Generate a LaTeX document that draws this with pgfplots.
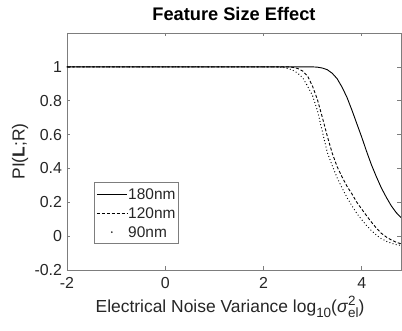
\documentclass[border=0pt]{standalone}
\usepackage{pgfplots}
\pgfplotsset{compat=1.18}
\usepackage{fontspec}
\setmainfont{Liberation Sans}
\definecolor{mgray}{RGB}{38,38,38}
\newcommand{\sub}[1]{{\fontsize{13.5}{13}\selectfont #1}}
\begin{document}
\begin{tikzpicture}
\begin{axis}[
  scale only axis, width=334bp, height=237bp,
  xmin=-2, xmax=4.8, ymin=-0.2, ymax=1.2,
  xtick={-2,0,2,4}, xticklabels={-2,0,2,4},
  ytick={-0.2,0,0.2,0.4,0.6,0.8,1}, yticklabels={-0.2,0,0.2,0.4,0.6,0.8,1},
  tick align=inside, major tick length=3.5bp,
  axis line style={mgray!60, line width=0.6pt},
  tick style={mgray!60, line width=0.6pt},
  ticklabel style={font=\fontsize{16}{18}\selectfont, text=mgray},
  xticklabel style={anchor=base, yshift=-18.3bp},
  yticklabel style={xshift=-1.5bp},
  title={\textbf{Feature Size Effect}},
  title style={font=\fontsize{18.3}{20}\selectfont, at={(axis description cs:0.5,1)}, anchor=base, yshift=6.5bp},
  xlabel={Electrical Noise Variance log\raisebox{-5bp}{\sub{10}}(\textit{σ}\rlap{\raisebox{7bp}{\sub{2}}}\raisebox{-5bp}{\sub{el}})},
  ylabel={PI(\textbf{L};R)},
  label style={font=\fontsize{17.5}{19}\selectfont, text=mgray},
  xlabel style={at={(axis description cs:0.5,0)}, anchor=base, yshift=-42.7bp, xshift=-4bp},
  ylabel style={at={(axis description cs:0,0.5)}, anchor=center, yshift=47bp},
  legend style={at={(0.081,0.11)}, anchor=south west, draw=mgray!60, line width=0.6pt,
     font=\fontsize{15.5}{17}\selectfont, text=mgray, inner xsep=2bp, inner ysep=2bp,
     nodes={inner xsep=1bp, inner ysep=4bp, text height=11bp, text depth=0bp},
     /tikz/every even column/.append style={column sep=0bp}},
  legend cell align=left,
]
\addlegendimage{legend image code/.code={\draw[black, line width=0.9pt] (0bp,0bp) -- (30bp,0bp);}}
\addlegendentry{180nm}
\addlegendimage{legend image code/.code={\draw[black, line width=0.9pt, dash pattern=on 3pt off 2pt] (0bp,0bp) -- (30bp,0bp);}}
\addlegendentry{120nm}
\addlegendimage{legend image code/.code={\fill[black, draw=none] (15bp,0bp) circle (0.9bp); \path[draw=none, fill=none] (0bp,0bp) -- (30bp,0bp);}}
\addlegendentry{90nm}
\addplot[black, line width=0.9pt, forget plot] coordinates {
(-2,1) (3.0,1) (3.1,0.998) (3.2,0.993) (3.3,0.983) (3.4,0.962) (3.5,0.93) (3.6,0.88)
(3.7,0.82) (3.8,0.745) (3.9,0.665) (4.0,0.585) (4.1,0.5) (4.2,0.42) (4.3,0.35)
(4.4,0.285) (4.5,0.23) (4.6,0.18) (4.7,0.14) (4.8,0.11)};
\addplot[black, line width=0.9pt, dash pattern=on 3pt off 2pt, forget plot] coordinates {
(-2,1) (2.5,1) (2.6,0.997) (2.7,0.99) (2.8,0.975) (2.9,0.945) (3.0,0.885) (3.1,0.805)
(3.2,0.70) (3.3,0.59) (3.4,0.49) (3.5,0.41) (3.6,0.35) (3.7,0.295) (3.8,0.25)
(3.9,0.20) (4.0,0.16) (4.1,0.12) (4.2,0.082) (4.3,0.047) (4.4,0.017) (4.5,-0.005)
(4.6,-0.022) (4.7,-0.036) (4.8,-0.045)};
\addplot[black, line width=1.3pt, line cap=round, dash pattern=on 0pt off 3.3pt, forget plot] coordinates {
(-2,1) (2.3,1) (2.4,0.997) (2.5,0.99) (2.6,0.98) (2.7,0.962) (2.8,0.935) (2.9,0.885)
(3.0,0.83) (3.1,0.74) (3.2,0.615) (3.3,0.495) (3.4,0.415) (3.5,0.345) (3.6,0.285)
(3.7,0.228) (3.8,0.18) (3.9,0.135) (4.0,0.097) (4.1,0.062) (4.2,0.032) (4.3,0.006)
(4.4,-0.015) (4.5,-0.03) (4.6,-0.042) (4.7,-0.05) (4.8,-0.055)};
\end{axis}
\pgfresetboundingbox
\path[use as bounding box] ([shift={(-67bp,-61bp)}]current axis.south west) rectangle ([shift={(1bp,33bp)}]current axis.north east);
\end{tikzpicture}
\end{document}
